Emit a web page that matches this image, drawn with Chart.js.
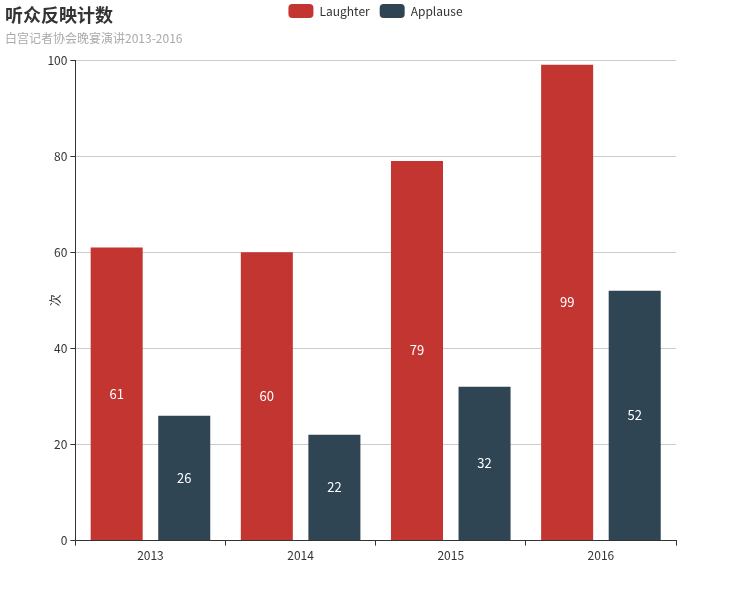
<!DOCTYPE html>
<html>
<head>
<meta charset="utf-8">
<script src="https://cdn.jsdelivr.net/npm/chart.js@4"></script>
<style>
  body { margin: 0; background: #fff; }
  #wrap { position: relative; width: 751px; height: 600px; }
  #title { position: absolute; left: 5px; top: 1px; font: bold 18px "Noto Sans CJK SC", sans-serif; color: #333; }
  #sub { position: absolute; left: 5px; top: 29px; font: 12px "Noto Sans CJK SC", sans-serif; color: #aaa; }
</style>
</head>
<body>
<div id="wrap">
  <canvas id="chart" width="751" height="600"></canvas>
  <div id="title">听众反映计数</div>
  <div id="sub">白宫记者协会晚宴演讲2013-2016</div>
</div>
<script>
const years = ["2013", "2014", "2015", "2016"];
const laughter = [61, 60, 79, 99];
const applause = [26, 22, 32, 52];

const ctx = document.getElementById("chart").getContext("2d");
Chart.defaults.font.family = '"Noto Sans CJK SC", sans-serif';
Chart.defaults.color = "#333";

// values in the middle of each bar
const barLabels = {
  id: "barLabels",
  afterDatasetsDraw(chart) {
    const c = chart.ctx;
    c.save();
    c.fillStyle = "#fff";
    c.font = '13px "Noto Sans CJK SC", sans-serif';
    c.textAlign = "center";
    c.textBaseline = "middle";
    chart.data.datasets.forEach((ds, i) => {
      chart.getDatasetMeta(i).data.forEach((bar, j) => {
        c.fillText(ds.data[j], bar.x, (bar.y + bar.base) / 2);
      });
    });
    c.restore();
  }
};

// legend centred on the whole canvas and pulled up to the top edge
const legendPlace = {
  id: "legendPlace",
  afterLayout(chart) {
    const lg = chart.legend;
    const h = lg.bottom - lg.top;
    lg.left = 0;
    lg.right = chart.width;
    lg.top = -6;
    lg.bottom = lg.top + h;
  }
};

chart = new Chart(ctx, {
  type: "bar",
  data: {
    labels: years,
    datasets: [
      { label: "Laughter", data: laughter, backgroundColor: "#c23531" },
      { label: "Applause", data: applause, backgroundColor: "#2f4554" }
    ]
  },
  options: {
    responsive: false,
    animation: false,
    categoryPercentage: 0.9,
    barPercentage: 0.77,
    layout: { padding: { left: 46, right: 75, top: 26, bottom: 34 } },
    plugins: {
      legend: {
        position: "top",
        labels: {
          boxWidth: 25,
          boxHeight: 14,
          useBorderRadius: true,
          borderRadius: 4,
          padding: 10,
          font: { size: 12 },
          color: "#333"
        }
      },
      tooltip: { enabled: false }
    },
    scales: {
      x: {
        grid: { display: true, offset: true, drawOnChartArea: false, drawTicks: true, tickLength: 5, color: "#333" },
        border: { color: "#333" },
        ticks: { font: { size: 12 }, color: "#333", padding: 3 }
      },
      y: {
        min: 0,
        max: 100,
        ticks: { stepSize: 20, font: { size: 12 }, color: "#333", padding: 3 },
        grid: { color: "#ccc", tickColor: "#333", tickLength: 5 },
        border: { color: "#333" },
        title: { display: true, text: "次", font: { size: 12 }, color: "#333", padding: { top: 2, bottom: -18 } }
      }
    }
  },
  plugins: [barLabels, legendPlace]
});
</script>
</body>
</html>
